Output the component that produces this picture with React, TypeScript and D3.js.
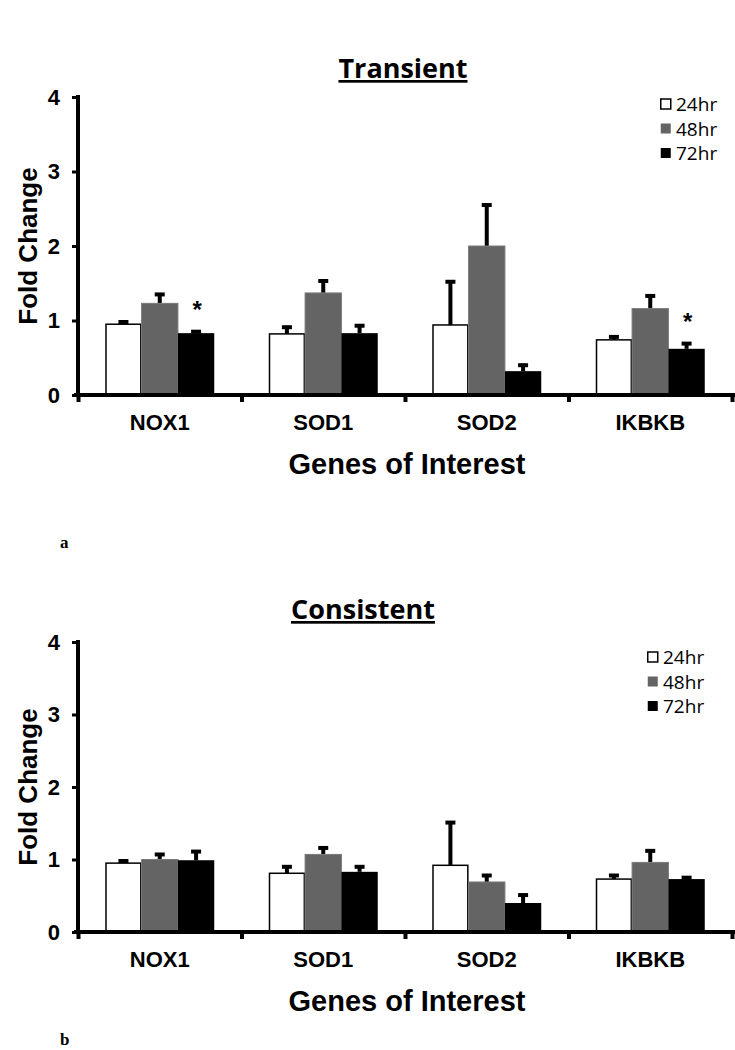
import React, { useEffect, useRef } from "react";
import * as d3 from "d3";

// genes on the x axis, time points as series
const genes = ["NOX1", "SOD1", "SOD2", "IKBKB"];
const timepoints = ["24hr", "48hr", "72hr"];
const fills = ["#ffffff", "#646464", "#000000"];

// panel a - transient
const transientMeans = [
  [0.95, 1.23, 0.83],
  [0.82, 1.37, 0.83],
  [0.94, 2.0, 0.32],
  [0.74, 1.16, 0.62],
];
const transientSem = [
  [0.05, 0.14, 0.04],
  [0.11, 0.18, 0.12],
  [0.6, 0.57, 0.1],
  [0.06, 0.19, 0.09],
];
// [gene index, timepoint index] marked significant
const transientStars = [
  [0, 2],
  [3, 2],
];

// panel b - consistent
const consistentMeans = [
  [0.95, 1.0, 0.99],
  [0.81, 1.07, 0.83],
  [0.92, 0.69, 0.4],
  [0.73, 0.96, 0.73],
];
const consistentSem = [
  [0.05, 0.09, 0.14],
  [0.11, 0.11, 0.09],
  [0.61, 0.11, 0.13],
  [0.07, 0.18, 0.04],
];
const consistentStars = [];

const yTicks = [0, 1, 2, 3, 4];

const W = 735;
const H = 1050;
const axisFont = "'Liberation Sans', Arial, sans-serif";

const panels = [
  {
    title: "Transient", tag: "a", means: transientMeans, sem: transientSem, stars: transientStars,
    top: 97, bottom: 395, titleX: 403, titleY: 78, legendX: 660, legendY: 104, tagY: 548,
  },
  {
    title: "Consistent", tag: "b", means: consistentMeans, sem: consistentSem, stars: consistentStars,
    top: 642, bottom: 932, titleX: 363, titleY: 619, legendX: 647, legendY: 657, tagY: 1045,
  },
];

function drawPanel(svg, p) {
  const left = 78;
  const right = 732;
  const g = svg.append("g");

  const y = d3.scaleLinear().domain([0, 4]).range([p.bottom, p.top]);
  const x0 = d3.scaleBand().domain(genes).range([left, right]).paddingInner(1 / 3).paddingOuter(1 / 6);
  const x1 = d3.scaleBand().domain(timepoints).range([0, x0.bandwidth()]);
  const xb = d3.scaleLinear().domain([0, genes.length]).range([left, right]);

  // bars
  genes.forEach((gene, gi) => {
    timepoints.forEach((tp, ti) => {
      const v = p.means[gi][ti];
      const e = p.sem[gi][ti];
      const bx = x0(gene) + x1(tp);
      const cx = bx + x1.bandwidth() / 2;
      // error bar (upper only)
      g.append("line")
        .attr("x1", cx).attr("x2", cx)
        .attr("y1", y(v)).attr("y2", y(v + e))
        .attr("stroke", "#000").attr("stroke-width", 4);
      g.append("line")
        .attr("x1", cx - 5).attr("x2", cx + 5)
        .attr("y1", y(v + e) + 1.5).attr("y2", y(v + e) + 1.5)
        .attr("stroke", "#000").attr("stroke-width", 4);
      g.append("rect")
        .attr("x", bx + (ti === 0 ? 0.75 : 0))
        .attr("y", y(v))
        .attr("width", x1.bandwidth() - (ti === 0 ? 1.5 : 0))
        .attr("height", y(0) - y(v))
        .attr("fill", fills[ti])
        .attr("stroke", ti === 0 ? "#000" : ti === 1 ? "#7a7a7a" : "none")
        .attr("stroke-width", ti === 0 ? 1.5 : 1);
    });
  });

  // significance stars
  p.stars.forEach(([gi, ti]) => {
    const cx = x0(genes[gi]) + x1(timepoints[ti]) + x1.bandwidth() / 2;
    g.append("text")
      .attr("x", cx + 1)
      .attr("y", y(p.means[gi][ti] + p.sem[gi][ti]) - 12)
      .attr("text-anchor", "middle")
      .style("font-family", axisFont)
      .style("font-weight", "bold")
      .style("font-size", "24px")
      .text("*");
  });

  // y axis
  const ya = g.append("g")
    .attr("transform", `translate(${left},0)`)
    .call(
      d3.axisLeft(y).tickValues(yTicks).tickFormat(d3.format("d")).tickSize(6).tickPadding(12).tickSizeOuter(0)
    );
  ya.select(".domain").attr("stroke-width", 4).attr("d", `M0,${p.top - 2}V${p.bottom + 2}`);
  ya.selectAll(".tick line").attr("stroke-width", 3);
  ya.selectAll(".tick text")
    .style("font-family", axisFont)
    .style("font-weight", "bold")
    .style("font-size", "22px");

  // x axis with ticks between genes
  const xa = g.append("g")
    .attr("transform", `translate(0,${p.bottom})`)
    .call(d3.axisBottom(xb).ticks(genes.length).tickSize(7).tickFormat(() => "").tickSizeOuter(0));
  xa.select(".domain").attr("stroke-width", 4).attr("d", `M${left - 4},0H${W}`);
  xa.selectAll(".tick line").attr("stroke-width", 4);

  g.selectAll(".gene-label")
    .data(genes)
    .join("text")
    .attr("x", (d) => x0(d) + x0.bandwidth() / 2)
    .attr("y", p.bottom + 35)
    .attr("text-anchor", "middle")
    .style("font-family", axisFont)
    .style("font-weight", "bold")
    .style("font-size", "22px")
    .text((d) => d);

  g.append("text")
    .attr("x", (left + right) / 2 + 2)
    .attr("y", p.bottom + 79)
    .attr("text-anchor", "middle")
    .style("font-family", axisFont)
    .style("font-weight", "bold")
    .style("font-size", "29px")
    .text("Genes of Interest");

  g.append("text")
    .attr("transform", `translate(37,${(p.top + p.bottom) / 2}) rotate(-90)`)
    .attr("text-anchor", "middle")
    .style("font-family", axisFont)
    .style("font-weight", "bold")
    .style("font-size", "26px")
    .text("Fold Change");

  // title
  g.append("text")
    .attr("x", p.titleX)
    .attr("y", p.titleY)
    .attr("text-anchor", "middle")
    .style("font-family", "'Open Sans', sans-serif")
    .style("font-weight", "bold")
    .style("font-size", "27px")
    .style("text-decoration", "underline")
    .text(p.title);

  // legend
  const lg = g.append("g").attr("transform", `translate(${p.legendX},${p.legendY})`);
  timepoints.forEach((tp, i) => {
    lg.append("rect")
      .attr("x", 0.75)
      .attr("y", i * 24.5 - 5)
      .attr("width", 10)
      .attr("height", 10)
      .attr("fill", fills[i])
      .attr("stroke", i === 0 ? "#000" : "none")
      .attr("stroke-width", 1.5);
    lg.append("text")
      .attr("x", 16)
      .attr("y", i * 24.5 + 7)
      .style("font-family", "'Open Sans', sans-serif")
      .style("font-size", "19px")
      .text(tp);
  });

  // panel tag
  g.append("text")
    .attr("x", 60)
    .attr("y", p.tagY)
    .style("font-family", "'Liberation Serif', serif")
    .style("font-weight", "bold")
    .style("font-size", "17px")
    .text(p.tag);
}

const App = () => {
  const ref = useRef(null);

  useEffect(() => {
    const svg = d3.select(ref.current);
    svg.selectAll("*").remove();
    svg.append("rect").attr("width", W).attr("height", H).attr("fill", "#fff");
    panels.forEach((p) => drawPanel(svg, p));
  }, []);

  return (
    <svg
      ref={ref}
      width={W}
      height={H}
      style={{ position: "absolute", left: 0, top: 0, display: "block" }}
    />
  );
};

export default App;
